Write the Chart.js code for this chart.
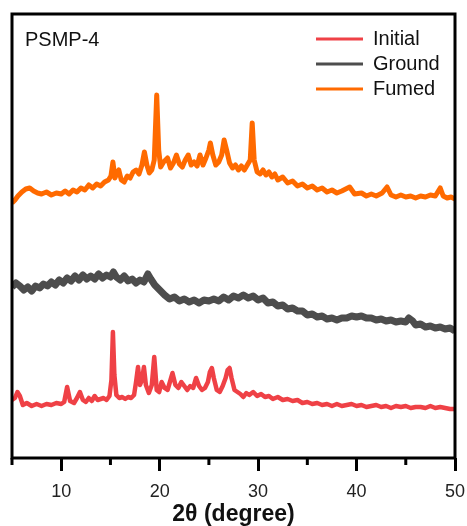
<!DOCTYPE html>
<html><head><meta charset="utf-8">
<script src="https://cdn.jsdelivr.net/npm/chart.js@4"></script>
<style>html,body{margin:0;padding:0;background:#fff;}</style>
</head><body>
<canvas id="c" width="467" height="526"></canvas>
<script>
// ---- data (2θ in degrees, intensity in arbitrary units, offset per pattern) ----
const seriesNames = ['Initial', 'Ground', 'Fumed'];
const seriesColors = ['#EF4146', '#4D4D4D', '#FF6A00'];

const initialX = [5.0,5.3,5.55,5.8,6.1,6.5,7.0,7.5,8.0,8.5,9.0,9.5,10.0,10.3,10.6,10.9,11.3,11.6,11.9,12.2,12.5,12.8,13.1,13.4,13.7,14.0,14.3,14.6,14.9,15.1,15.25,15.4,15.6,15.9,16.2,16.5,16.8,17.1,17.4,17.6,17.8,18.0,18.2,18.4,18.6,18.9,19.2,19.45,19.7,19.95,20.2,20.5,20.8,21.1,21.3,21.6,21.9,22.2,22.5,22.8,23.1,23.4,23.7,24.0,24.3,24.6,24.9,25.1,25.3,25.5,25.8,26.1,26.4,26.7,26.9,27.1,27.3,27.6,27.9,28.2,28.5,28.8,29.1,29.5,29.9,30.3,30.7,31.1,31.5,32.0,32.5,33.0,33.5,34.0,34.5,35.0,35.5,36.0,36.5,37.0,37.5,38.0,38.5,39.0,39.5,40.0,40.5,41.0,41.5,42.0,42.5,43.0,43.5,44.0,44.5,45.0,45.5,46.0,46.5,47.0,47.5,48.0,48.5,49.0,49.5,50.0];
const initialY = [58,60,66,62,53,55,52,54,52,54,53,55,54,56,71,57,55,60,66,58,56,60,57,62,58,59,60,58,62,78,126,83,63,60,61,59,61,60,63,76,91,73,78,91,73,65,73,101,68,66,76,70,68,78,85,73,70,76,72,68,72,70,80,72,68,70,76,86,90,80,68,66,72,80,88,90,80,68,66,64,61,65,63,66,62,64,61,62,59,61,58,59,57,58,55,56,54,55,53,54,52,54,52,53,54,52,53,51,52,53,51,52,50,52,51,52,50,51,51,50,52,50,51,50,49,49];

const groundX = [5.0,5.4,5.8,6.2,6.6,7.0,7.4,7.8,8.2,8.6,9.0,9.4,9.8,10.2,10.6,11.0,11.4,11.8,12.2,12.6,13.0,13.4,13.8,14.2,14.6,15.0,15.3,15.6,16.0,16.4,16.8,17.2,17.6,18.0,18.4,18.8,19.1,19.5,20.0,20.5,21.0,21.5,22.0,22.5,23.0,23.5,24.0,24.5,25.0,25.5,26.0,26.5,27.0,27.5,28.0,28.5,29.0,29.5,30.0,30.5,31.0,31.5,32.0,32.5,33.0,33.5,34.0,34.5,35.0,35.5,36.0,36.5,37.0,37.5,38.0,38.5,39.0,39.5,40.0,40.5,41.0,41.5,42.0,42.5,43.0,43.5,44.0,44.5,45.0,45.3,45.7,46.0,46.5,47.0,47.5,48.0,48.5,49.0,49.5,50.0];
const groundY = [171,175,172,168,171,167,172,170,174,172,176,173,178,175,180,177,182,178,183,179,182,179,184,180,183,181,186,181,178,182,177,179,175,178,176,184,179,173,168,163,159,161,157,159,156,158,155,158,157,159,157,161,158,162,160,163,160,162,158,160,155,156,152,153,149,150,147,147,143,144,141,142,139,140,138,140,140,142,141,142,140,140,138,139,137,138,136,137,136,140,137,133,134,131,132,130,131,129,130,127];

const fumedX = [5.0,5.3,5.6,6.0,6.4,6.8,7.2,7.6,8.0,8.5,9.0,9.5,10.0,10.4,10.8,11.2,11.6,12.0,12.4,12.8,13.2,13.6,14.0,14.4,14.8,15.05,15.25,15.45,15.7,15.85,16.1,16.4,16.7,17.0,17.3,17.6,17.9,18.2,18.45,18.7,18.95,19.2,19.45,19.7,19.9,20.1,20.4,20.8,21.1,21.4,21.7,22.0,22.3,22.6,22.9,23.2,23.5,23.8,24.1,24.4,24.7,25.0,25.15,25.4,25.7,26.0,26.3,26.55,26.8,27.1,27.4,27.7,28.0,28.3,28.6,28.9,29.2,29.4,29.6,29.9,30.2,30.5,30.8,31.1,31.4,31.7,32.0,32.5,33.0,33.5,34.0,34.5,35.0,35.5,36.0,36.5,37.0,37.5,38.0,38.5,39.3,39.8,40.5,41.0,41.5,42.0,42.6,43.1,43.5,44.0,44.5,45.0,45.5,46.0,46.5,47.0,47.5,48.0,48.5,48.8,49.2,49.6,50.0];
const fumedY = [255,258,262,266,269,270,267,265,264,266,263,265,264,267,264,268,266,270,268,273,270,274,272,276,278,282,296,280,286,288,278,276,282,280,286,288,284,293,306,293,285,288,298,363,308,291,296,300,290,295,303,294,291,298,303,293,296,292,303,293,300,308,315,303,293,296,303,318,308,295,290,293,288,292,288,293,298,335,298,286,284,288,283,286,281,284,278,281,275,277,272,274,270,272,268,270,266,268,265,267,271,264,265,262,264,262,265,271,263,261,263,261,262,260,262,261,263,262,270,262,260,261,259];

const xMin = 5, xMax = 50;
const yMin = 0, yMax = 444;
const majorTicks = [10, 20, 30, 40, 50];
const minorTicks = [5, 15, 25, 35, 45];
const sampleLabel = 'PSMP-4';
const xTitle = '2\u03B8 (degree)';

const toPoints = (xs, ys) => xs.map((x, i) => ({x: x, y: ys[i]}));
const seriesData = [toPoints(initialX, initialY), toPoints(groundX, groundY), toPoints(fumedX, fumedY)];
const seriesWidths = [4.5, 7, 5];

const FONT = "'Liberation Sans', Arial, sans-serif";

const framePlugin = {
  id: 'frame',
  afterLayout(chart) {
    const lg = chart.legend, ca = chart.chartArea;
    if (lg) {
      const w = lg.width;
      lg.left = ca.right - 144;
      lg.right = lg.left + w;
      lg.top = ca.top + 10;
      lg.bottom = ca.bottom;
    }
  },
  afterDraw(chart) {
    const {ctx, chartArea: ca, scales} = chart;
    ctx.save();
    ctx.strokeStyle = '#000';
    ctx.lineWidth = 3;
    ctx.strokeRect(ca.left, ca.top, ca.right - ca.left, ca.bottom - ca.top);
    minorTicks.forEach(v => {
      const px = scales.x.getPixelForValue(v);
      ctx.beginPath();
      ctx.moveTo(px, ca.bottom);
      ctx.lineTo(px, ca.bottom + 7);
      ctx.stroke();
    });
    ctx.fillStyle = '#111';
    ctx.font = '20px ' + FONT;
    ctx.textBaseline = 'middle';
    ctx.textAlign = 'left';
    ctx.fillText(sampleLabel, ca.left + 13, ca.top + 26);
    ctx.restore();
  }
};

new Chart(document.getElementById('c'), {
  type: 'line',
  data: {
    datasets: seriesNames.map((name, i) => ({
      label: name,
      data: seriesData[i],
      borderColor: seriesColors[i],
      backgroundColor: seriesColors[i],
      borderWidth: seriesWidths[i],
      pointRadius: 0,
      pointHoverRadius: 0,
      tension: 0,
      borderJoinStyle: 'round',
      fill: false
    }))
  },
  options: {
    responsive: false,
    animation: false,
    devicePixelRatio: 1,
    layout: {padding: {left: 12, right: 12, top: 14, bottom: 0}},
    plugins: {
      tooltip: {enabled: false},
      legend: {
        position: 'chartArea',
        align: 'start',
        labels: {
          usePointStyle: true,
          pointStyle: 'line',
          pointStyleWidth: 47,
          padding: 5,
          color: '#111',
          font: {family: FONT, size: 20},
          generateLabels(chart) {
            const items = Chart.defaults.plugins.legend.labels.generateLabels(chart);
            items.forEach(it => { it.lineWidth = 3; it.pointStyle = 'line'; });
            return items;
          }
        }
      }
    },
    scales: {
      x: {
        type: 'linear',
        min: xMin,
        max: xMax,
        afterBuildTicks(scale) { scale.ticks = majorTicks.map(v => ({value: v})); },
        afterFit(scale) {
          scale.paddingLeft = 0;
          scale.paddingRight = 0;
          scale.height = 68;
        },
        border: {display: false},
        grid: {drawOnChartArea: false, drawTicks: true, tickLength: 13, tickWidth: 3, tickColor: '#000'},
        ticks: {color: '#222', padding: 10, maxRotation: 0, font: {family: FONT, size: 18}},
        title: {display: true, text: xTitle, color: '#111', padding: {top: 0, bottom: 0},
                font: {family: FONT, size: 23, weight: 'bold', lineHeight: 1}}
      },
      y: {
        type: 'linear',
        display: false,
        min: yMin,
        max: yMax
      }
    }
  },
  plugins: [framePlugin]
});
</script>
</body></html>
